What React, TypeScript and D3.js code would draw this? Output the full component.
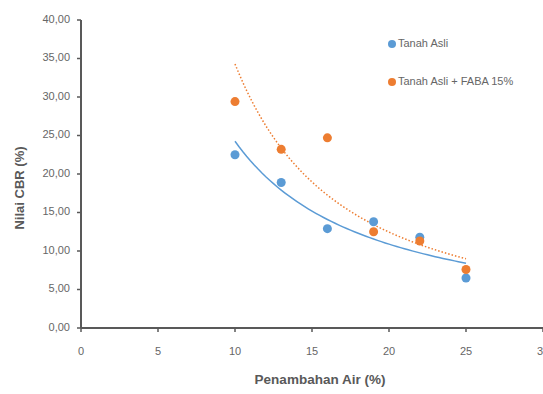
import * as d3 from "d3";
import React from "react";

const waterAdded = [10, 13, 16, 19, 22, 25];
const tanahAsli = [22.5, 18.9, 12.9, 13.8, 11.8, 6.5];
const tanahFaba = [29.4, 23.2, 24.7, 12.5, 11.3, 7.6];
const xTicks = [0, 5, 10, 15, 20, 25, 30];
const yTicks = [0, 5, 10, 15, 20, 25, 30, 35, 40];

const BLUE = "#5B9BD5";
const ORANGE = "#ED7D31";
const GREY = "#595959";
const FONT = "'Liberation Sans', Arial, sans-serif";

// power trendline (like excel): y = a * x^b, fit on logs
function powerFit(xs: number[], ys: number[]) {
  const lx = xs.map(Math.log);
  const ly = ys.map(Math.log);
  const mx = d3.mean(lx)!;
  const my = d3.mean(ly)!;
  const sxy = d3.sum(lx, (v, i) => (v - mx) * (ly[i] - my));
  const sxx = d3.sum(lx, (v) => (v - mx) ** 2);
  const b = sxy / sxx;
  const a = Math.exp(my - b * mx);
  return (x: number) => a * Math.pow(x, b);
}

export default function App() {
  const W = 543;
  const H = 394;
  const x = d3.scaleLinear().domain([0, 30]).range([81, 543]);
  const y = d3.scaleLinear().domain([0, 40]).range([328, 20]);

  const series = [
    { label: "Tanah Asli", values: tanahAsli, color: BLUE, dash: undefined as string | undefined },
    { label: "Tanah Asli + FABA 15%", values: tanahFaba, color: ORANGE, dash: "1.5 2" },
  ];

  const xs = d3.range(10, 25.001, 0.25);
  const line = d3
    .line<[number, number]>()
    .x((d) => x(d[0]))
    .y((d) => y(d[1]));

  return (
    <svg
      width={W}
      height={H}
      style={{ position: "absolute", left: 0, top: 0, background: "#fff", fontFamily: FONT }}
    >
      {/* y axis */}
      <line x1={x(0)} x2={x(0)} y1={y(40)} y2={y(0)} stroke={GREY} strokeWidth={2} />
      {yTicks.map((t) => (
        <g key={t}>
          <line x1={x(0) - 4} x2={x(0)} y1={y(t)} y2={y(t)} stroke={GREY} strokeWidth={1.5} />
          <text
            x={70}
            y={y(t)}
            textAnchor="end"
            dominantBaseline="middle"
            fontSize={11}
            fill="#666"
          >
            {t.toFixed(2).replace(".", ",")}
          </text>
        </g>
      ))}

      {/* x axis */}
      <line x1={x(0)} x2={W} y1={y(0)} y2={y(0)} stroke={GREY} strokeWidth={2} />
      {xTicks.map((t) => (
        <g key={t}>
          <line x1={x(t)} x2={x(t)} y1={y(0)} y2={y(0) + 4} stroke={GREY} strokeWidth={1.5} />
          <text x={x(t)} y={352} textAnchor="middle" dominantBaseline="middle" fontSize={11} fill="#666">
            {t}
          </text>
        </g>
      ))}

      {/* trendlines */}
      {series.map((s) => {
        const f = powerFit(waterAdded, s.values);
        return (
          <path
            key={s.label + "-trend"}
            d={line(xs.map((v) => [v, f(v)] as [number, number])) ?? undefined}
            fill="none"
            stroke={s.color}
            strokeWidth={1.5}
            strokeDasharray={s.dash}
          />
        );
      })}

      {/* points */}
      {series.map((s) => (
        <g key={s.label}>
          {s.values.map((v, i) => (
            <circle key={i} cx={x(waterAdded[i])} cy={y(v)} r={4.5} fill={s.color} />
          ))}
        </g>
      ))}

      {/* legend */}
      {series.map((s, i) => (
        <g key={s.label + "-leg"} transform={`translate(392,${44 + i * 38})`}>
          <circle cx={0} cy={0} r={4} fill={s.color} />
          <text x={6} y={0} dominantBaseline="middle" fontSize={11} fill="#666">
            {s.label}
          </text>
        </g>
      ))}

      {/* axis titles */}
      <text x={320} y={384} textAnchor="middle" fontSize={13.5} fontWeight="bold" fill={GREY}>
        Penambahan Air (%)
      </text>
      <text
        transform={`translate(24,188) rotate(-90)`}
        textAnchor="middle"
        fontSize={13}
        fontWeight="bold"
        fill={GREY}
      >
        Nilai CBR (%)
      </text>
    </svg>
  );
}
